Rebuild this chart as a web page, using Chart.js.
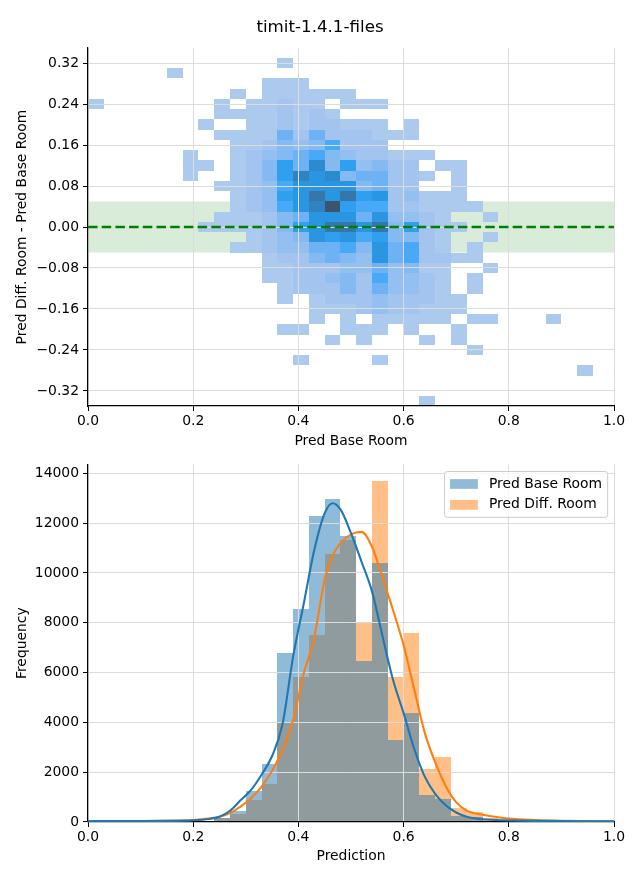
<!DOCTYPE html>
<html><head><meta charset="utf-8">
<script src="https://cdn.jsdelivr.net/npm/chart.js@4/dist/chart.umd.min.js"></script>
<style>
html,body{margin:0;padding:0;background:#fff;}
#wrap{position:relative;width:640px;height:880px;overflow:hidden;}
#c1{position:absolute;left:0;top:0;}
#c2{position:absolute;left:0;top:452px;}
</style></head><body>
<div id="wrap">
<canvas id="c1" width="640" height="452"></canvas>
<canvas id="c2" width="640" height="428"></canvas>
</div>
<script>
// ---------------- data ----------------
const chartTitle = 'timit-1.4.1-files';
const seriesLabels = ['Pred Base Room', 'Pred Diff. Room'];
const seriesColors = ['#1f77b4', '#ff7f0e'];
const binWidth = 0.03;          // histogram bin width on the prediction axis
const heatRowHeight = 0.02;     // bin height on the difference axis
const heatRowCenters = [0.32,0.30,0.28,0.26,0.24,0.22,0.20,0.18,0.16,0.14,0.12,0.10,0.08,0.06,0.04,0.02,0.00,
  -0.02,-0.04,-0.06,-0.08,-0.10,-0.12,-0.14,-0.16,-0.18,-0.20,-0.22,-0.24,-0.26,-0.28,-0.30,-0.32,-0.34];
// relative counts per cell (0 = empty), columns = prediction bins of width 0.03 starting at 0
const heatCounts = [
[0,0,0,0,0,0,0,0,0,0,0,0,1,0,0,0,0,0,0,0,0,0,0,0,0,0,0,0,0,0,0,0],
[0,0,0,0,0,1,0,0,0,0,0,0,0,0,0,0,0,0,0,0,0,0,0,0,0,0,0,0,0,0,0,0],
[0,0,0,0,0,0,0,0,0,0,0,1,1,1,0,0,0,0,0,0,0,0,0,0,0,0,0,0,0,0,0,0],
[0,0,0,0,0,0,0,0,0,1,0,1,1,1,1,1,1,0,0,0,0,0,0,0,0,0,0,0,0,0,0,0],
[1,0,0,0,0,0,0,0,1,0,1,1,5,1,1,0,1,1,1,0,0,0,0,0,0,0,0,0,0,0,0,0],
[0,0,0,0,0,0,0,0,1,1,1,1,5,1,5,1,0,0,0,0,0,0,0,0,0,0,0,0,0,0,0,0],
[0,0,0,0,0,0,0,1,0,0,1,1,5,1,5,5,1,1,1,0,1,0,0,0,0,0,0,0,0,0,0,0],
[0,0,0,0,0,0,0,0,1,1,1,1,22,5,22,5,5,5,1,1,1,0,0,0,0,0,0,0,0,0,0,0],
[0,0,0,0,0,0,0,0,0,1,1,5,15,10,15,30,5,5,5,0,0,0,0,0,0,0,0,0,0,0,0,0],
[0,0,0,0,0,0,1,0,0,1,5,10,15,22,30,15,10,5,5,1,1,1,0,0,0,0,0,0,0,0,0,0],
[0,0,0,0,0,0,1,1,0,1,5,15,38,22,55,15,38,10,15,5,5,0,1,1,0,0,0,0,0,0,0,0],
[0,0,0,0,0,0,1,0,0,1,5,15,38,62,46,55,15,22,22,5,5,1,0,1,0,0,0,0,0,0,0,0],
[0,0,0,0,0,0,0,0,1,1,5,10,30,46,46,46,46,15,22,5,5,0,0,1,0,0,0,0,0,0,0,0],
[0,0,0,0,0,0,0,0,0,1,5,10,38,46,72,46,72,38,46,5,10,1,1,1,0,0,0,0,0,0,0,0],
[0,0,0,0,0,0,0,0,0,1,5,10,30,46,62,100,38,30,30,5,5,1,1,1,1,0,0,0,0,0,0,0],
[0,0,0,0,0,0,0,0,1,1,1,5,15,22,46,46,46,22,46,10,10,5,1,0,0,1,0,0,0,0,0,0],
[0,0,0,0,0,0,0,1,1,1,1,5,15,38,46,72,72,46,72,15,38,5,1,1,0,0,0,0,0,0,0,0],
[0,0,0,0,0,0,0,0,0,0,1,5,10,15,46,38,46,30,38,15,15,5,1,0,0,1,0,0,0,0,0,0],
[0,0,0,0,0,0,0,0,0,1,1,5,10,10,22,22,30,15,46,22,30,5,1,0,1,0,0,0,0,0,0,0],
[0,0,0,0,0,0,0,0,0,0,0,1,5,5,15,22,15,10,46,22,30,5,5,1,1,0,0,0,0,0,0,0],
[0,0,0,0,0,0,0,0,0,0,0,1,1,5,5,5,10,10,22,10,15,1,1,0,0,1,0,0,0,0,0,0],
[0,0,0,0,0,0,0,0,0,0,0,1,1,5,5,10,15,5,30,10,10,5,1,0,1,0,0,0,0,0,0,0],
[0,0,0,0,0,0,0,0,0,0,0,0,1,5,5,5,15,5,22,10,10,5,1,0,1,0,0,0,0,0,0,0],
[0,0,0,0,0,0,0,0,0,0,0,0,1,0,1,5,5,5,10,5,5,5,1,1,0,0,0,0,0,0,0,0],
[0,0,0,0,0,0,0,0,0,0,0,0,0,0,1,1,1,5,10,5,5,1,1,1,0,0,0,0,0,0,0,0],
[0,0,0,0,0,0,0,0,0,0,0,0,0,0,1,0,1,0,1,1,1,1,1,0,1,1,0,0,0,1,0,0],
[0,0,0,0,0,0,0,0,0,0,0,0,1,1,0,0,1,1,1,0,1,0,0,1,0,0,0,0,0,0,0,0],
[0,0,0,0,0,0,0,0,0,0,0,0,0,0,0,1,0,1,0,0,0,1,0,1,0,0,0,0,0,0,0,0],
[0,0,0,0,0,0,0,0,0,0,0,0,0,0,0,0,0,0,0,0,0,0,0,0,1,0,0,0,0,0,0,0],
[0,0,0,0,0,0,0,0,0,0,0,0,0,1,0,0,0,0,1,0,0,0,0,0,0,0,0,0,0,0,0,0],
[0,0,0,0,0,0,0,0,0,0,0,0,0,0,0,0,0,0,0,0,0,0,0,0,0,0,0,0,0,0,0,1],
[0,0,0,0,0,0,0,0,0,0,0,0,0,0,0,0,0,0,0,0,0,0,0,0,0,0,0,0,0,0,0,0],
[0,0,0,0,0,0,0,0,0,0,0,0,0,0,0,0,0,0,0,0,0,0,0,0,0,0,0,0,0,0,0,0],
[0,0,0,0,0,0,0,0,0,0,0,0,0,0,0,0,0,0,0,0,0,1,0,0,0,0,0,0,0,0,0,0]
];
const bandLimits = [-0.05, 0.05];
const topXTicks = [0, 0.2, 0.4, 0.6, 0.8, 1.0];
const topYTicks = [-0.32, -0.24, -0.16, -0.08, 0, 0.08, 0.16, 0.24, 0.32];
const topYRange = [-0.3493, 0.3493];

// histogram counts per 0.03 bin (bin i covers [0.03*i, 0.03*(i+1)))
const histBaseRoom = [5,5,5,8,10,15,25,50,170,430,1250,2320,6800,8540,12270,12950,11500,6450,10390,3310,4380,1080,920,250,200,60,40,25,15,10,6,5,3];
const histDiffRoom = [3,3,4,6,8,12,20,40,150,340,880,1530,4010,5830,7500,10750,11310,7980,13680,5830,7580,2130,2600,570,400,150,80,50,30,20,12,8,5];
// KDE curves (scaled to counts)
const kdeX = [0,0.05,0.10,0.15,0.20,0.23,0.25,0.27,0.29,0.31,0.33,0.35,0.37,0.39,0.41,0.43,0.45,0.465,0.48,0.50,0.52,0.54,0.56,0.58,0.60,0.62,0.64,0.66,0.68,0.70,0.72,0.75,0.80,0.85,0.90,0.95,1.00];
const kdeBaseRoom = [35,35,40,50,70,120,210,450,870,1290,1900,2650,3950,6650,8750,10900,12400,12800,12550,11600,10450,9250,7450,5700,4370,2950,1830,1130,670,380,210,110,65,45,35,30,25];
const kdeDiffRoom = [25,28,35,50,80,140,210,360,620,950,1420,2060,2900,4100,5960,7400,9750,10700,11200,11550,11650,11050,9800,8500,7100,5350,3600,2400,1450,800,455,290,140,80,50,35,27];
const bottomXTicks = [0, 0.2, 0.4, 0.6, 0.8, 1.0];
const bottomYTicks = [0, 2000, 4000, 6000, 8000, 10000, 12000, 14000];
const bottomYMax = 14361;

// ---------------- colormap (seaborn light->dark ramp from a seed colour, HUSL) ----------------
const HM = [[3.2406,-1.5372,-0.4986],[-0.9689,1.8758,0.0415],[0.0557,-0.2040,1.0570]];
const HM_INV = [[0.4124,0.3576,0.1805],[0.2126,0.7152,0.0722],[0.0193,0.1192,0.9505]];
const REF_U = 0.19784, REF_V = 0.46834, LAB_E = 0.008856, LAB_K = 903.3;
function maxChroma(L, H) {
  const hr = H * Math.PI / 180, sinH = Math.sin(hr), cosH = Math.cos(hr);
  const sub1 = Math.pow(L + 16, 3) / 1560896;
  const sub2 = sub1 > LAB_E ? sub1 : L / LAB_K;
  let res = Infinity;
  for (const [m1, m2, m3] of HM) {
    const top = (0.99915*m1 + 1.05122*m2 + 1.14460*m3) * sub2;
    const rb = 0.86330*m3 - 0.17266*m2;
    const lb = 0.12949*m3 - 0.38848*m1;
    const bottom = (rb*sinH + lb*cosH) * sub2;
    for (const t of [0, 1]) {
      const C = L * (top - 1.05122*t) / (bottom + 0.17266*sinH*t);
      if (C > 0 && C < res) res = C;
    }
  }
  return res;
}
const toLinear = c => c > 0.04045 ? Math.pow((c + 0.055) / 1.055, 2.4) : c / 12.92;
const fromLinear = c => c <= 0.0031308 ? 12.92 * c : 1.055 * Math.pow(c, 1 / 2.4) - 0.055;
function rgbToHusl(r, g, b) {
  const rl = [toLinear(r), toLinear(g), toLinear(b)];
  const [X, Y, Z] = HM_INV.map(row => row[0]*rl[0] + row[1]*rl[1] + row[2]*rl[2]);
  const den = X + 15*Y + 3*Z;
  const vu = 4*X/den, vv = 9*Y/den;
  const fy = Y > LAB_E ? Math.cbrt(Y) : 7.787*Y + 16/116;
  const L = 116*fy - 16;
  const U = 13*L*(vu - REF_U), V = 13*L*(vv - REF_V);
  const C = Math.hypot(U, V);
  let H = Math.atan2(V, U) * 180 / Math.PI; if (H < 0) H += 360;
  return [H, C / maxChroma(L, H) * 100, L];
}
function huslToRgb(H, S, L) {
  const C = maxChroma(L, H) / 100 * S;
  const hr = H * Math.PI / 180;
  const U = Math.cos(hr) * C, V = Math.sin(hr) * C;
  const fi = (L + 16) / 116;
  const Y = Math.pow(fi, 3) > LAB_E ? Math.pow(fi, 3) : (116*fi - 16) / LAB_K;
  const vu = U / (13*L) + REF_U, vv = V / (13*L) + REF_V;
  const X = -(9*Y*vu) / ((vu - 4)*vv - vu*vv);
  const Z = (9*Y - 15*vv*Y - vv*X) / (3*vv);
  return HM.map(row => Math.min(1, Math.max(0, fromLinear(row[0]*X + row[1]*Y + row[2]*Z))));
}
function buildCmap(hex) {
  const r = parseInt(hex.slice(1,3),16)/255, g = parseInt(hex.slice(3,5),16)/255, b = parseInt(hex.slice(5,7),16)/255;
  const [h, s] = rgbToHusl(r, g, b);
  const n = 256, m = Math.floor(1.15 * 256);
  const cols = [];
  for (let k = 0; k < n; k++) {
    const xx = -1 + 2*k/(m - 1);
    const c = huslToRgb(h, s*Math.cos(xx), 35 + 45*k/(n - 1));
    cols.push('rgb(' + c.map(v => Math.round(v*255)).join(',') + ')');
  }
  return cols.reverse();
}
const cmap = buildCmap(seriesColors[0]);
let vmin = Infinity, vmax = -Infinity;
heatCounts.forEach(r => r.forEach(v => { if (v > 0) { vmin = Math.min(vmin, v); vmax = Math.max(vmax, v); } }));
const cellColor = v => cmap[Math.min(255, Math.max(0, Math.floor((v - vmin) / (vmax - vmin) * 256)))];

// ---------------- shared helpers ----------------
const FONT = 'DejaVu Sans';
Chart.defaults.font.family = FONT;
Chart.defaults.color = '#000';
const TICK_FS = 13.9;
const GRID = '#dcdcdc';
const fmtMinus = s => s.replace('-', '\u2212');

// draw datasets marked `late` after the grid (like matplotlib lines above grid)
const lateLines = {
  id: 'lateLines',
  beforeDatasetDraw(chart, args) {
    if (chart.data.datasets[args.index].late && !chart.$lateNow) return false;
  },
  afterDraw(chart) {
    const ctx = chart.ctx, a = chart.chartArea;
    chart.$lateNow = true;
    const metas = chart.getSortedVisibleDatasetMetas().filter(m => chart.data.datasets[m.index].late);
    for (let i = metas.length - 1; i >= 0; i--) {
      ctx.save();
      ctx.beginPath(); ctx.rect(a.left, a.top, a.right - a.left, a.bottom - a.top); ctx.clip();
      metas[i].controller.draw();
      ctx.restore();
    }
    chart.$lateNow = false;
  }
};
// snap bar edges to whole pixels (as matplotlib does) so adjacent bins do not show seams
const snapBars = {
  id: 'snapBars',
  afterDatasetsUpdate(chart) {
    chart.getSortedVisibleDatasetMetas().forEach(meta => {
      if (meta.type !== 'bar') return;
      meta.data.forEach(el => {
        const l = Math.round(el.x - el.width / 2), r = Math.round(el.x + el.width / 2);
        el.x = (l + r) / 2; el.width = r - l;
        el.y = Math.round(el.y); el.base = Math.round(el.base);
      });
    });
  }
};

function xAxis(ticks, title, height, titlePad) {
  return {
    type: 'linear', min: 0, max: 1, offset: false,
    afterBuildTicks: ax => { ax.ticks = ticks.map(v => ({ value: v })); },
    afterFit: ax => { ax.height = height; },
    ticks: { autoSkip: false, maxRotation: 0, minRotation: 0, padding: 2, font: { size: TICK_FS }, color: '#000',
             callback: v => v.toFixed(1) },
    grid: { offset: false, color: GRID, lineWidth: 1, z: 1, tickLength: 5, tickColor: '#000', tickWidth: 1 },
    border: { display: true, color: '#000', width: 1.2, z: 2 },
    title: { display: true, text: title, font: { size: TICK_FS }, color: '#000', padding: { top: 0, bottom: titlePad } }
  };
}
function yAxis(ticks, min, max, title, fmt) {
  return {
    type: 'linear', min, max,
    afterBuildTicks: ax => { ax.ticks = ticks.map(v => ({ value: v })); },
    afterFit: ax => { ax.width = 88; },
    ticks: { autoSkip: false, padding: 4, font: { size: TICK_FS }, color: '#000', callback: fmt },
    grid: { color: GRID, lineWidth: 1, z: 1, tickLength: 5, tickColor: '#000', tickWidth: 1 },
    border: { display: true, color: '#000', width: 1.2, z: 2 },
    title: { display: true, text: title, font: { size: TICK_FS }, color: '#000', padding: { top: 13.7, bottom: 0 } }
  };
}
// empty right-hand margin box (keeps the figure title centred on the whole figure)
const rightMargin = {
  type: 'linear', position: 'right', display: true,
  afterFit: ax => { ax.width = 26; },
  ticks: { display: false }, grid: { display: false, drawTicks: false }, border: { display: false }
};

// ---------------- top chart: 2D histogram ----------------
const cells = [];
heatRowCenters.forEach((yc, r) => {
  heatCounts[r].forEach((v, i) => {
    if (v > 0) cells.push({ x: (i + 0.5) * binWidth, y: [yc - heatRowHeight / 2, yc + heatRowHeight / 2], v });
  });
});

new Chart(document.getElementById('c1'), {
  type: 'bar',
  data: {
    datasets: [
      { type: 'line', label: 'band', data: [{ x: 0, y: bandLimits[1] }, { x: 1, y: bandLimits[1] }],
        borderWidth: 0, borderColor: 'rgba(0,0,0,0)', pointRadius: 0,
        fill: { value: bandLimits[0] }, backgroundColor: 'rgba(0,128,0,0.15)', order: 3 },
      { type: 'bar', label: 'cells', data: cells, order: 2,
        backgroundColor: ctx => ctx.raw ? cellColor(ctx.raw.v) : 'rgba(0,0,0,0)',
        borderWidth: 0, inflateAmount: 0, barPercentage: 1, categoryPercentage: 1, grouped: false },
      { type: 'line', label: 'zero', late: true, data: [{ x: 0, y: 0 }, { x: 1, y: 0 }],
        borderColor: '#008000', borderWidth: 2.4, borderDash: [9.5, 4.2], pointRadius: 0, fill: false, order: 1 }
    ]
  },
  options: {
    responsive: false, animation: false, events: [],
    layout: { padding: 0 },
    plugins: {
      legend: { display: false }, tooltip: { enabled: false },
      title: { display: true, text: chartTitle, color: '#000', font: { size: 16.7, weight: 'normal' },
               padding: { top: 18, bottom: 9.96 } }
    },
    scales: {
      x: xAxis(topXTicks, 'Pred Base Room', 46, 2.7),
      y: yAxis(topYTicks, topYRange[0], topYRange[1], 'Pred Diff. Room - Pred Base Room', v => fmtMinus(v.toFixed(2))),
      rm: rightMargin
    }
  },
  plugins: [snapBars, lateLines]
});

// ---------------- bottom chart: histograms + KDE ----------------
const mplLegend = {
  id: 'mplLegend',
  afterDraw(chart) {
    const ctx = chart.ctx, a = chart.chartArea, fs = TICK_FS;
    const items = chart.data.datasets.filter(d => d.type === 'bar')
      .map(d => ({ label: d.label, color: d.backgroundColor }));
    ctx.save();
    ctx.font = fs + 'px "' + FONT + '"';
    const tw = Math.max(...items.map(it => ctx.measureText(it.label).width));
    const pad = 0.4 * fs, hl = 2 * fs, htp = 0.8 * fs, ls = 0.5 * fs, rowH = fs;
    const w = pad + hl + htp + tw + pad;
    const h = 2 * pad + items.length * rowH + (items.length - 1) * ls;
    const x0 = Math.round(a.right - 0.5 * fs - w) + 0.5, y0 = Math.round(a.top + 0.5 * fs) + 0.5;
    const rr = 0.2 * fs;
    ctx.beginPath();
    ctx.moveTo(x0 + rr, y0); ctx.lineTo(x0 + w - rr, y0); ctx.arcTo(x0 + w, y0, x0 + w, y0 + rr, rr);
    ctx.lineTo(x0 + w, y0 + h - rr); ctx.arcTo(x0 + w, y0 + h, x0 + w - rr, y0 + h, rr);
    ctx.lineTo(x0 + rr, y0 + h); ctx.arcTo(x0, y0 + h, x0, y0 + h - rr, rr);
    ctx.lineTo(x0, y0 + rr); ctx.arcTo(x0, y0, x0 + rr, y0, rr); ctx.closePath();
    ctx.fillStyle = 'rgba(255,255,255,0.8)'; ctx.fill();
    ctx.strokeStyle = '#cccccc'; ctx.lineWidth = 1; ctx.stroke();
    items.forEach((it, i) => {
      const cy = y0 + pad + rowH / 2 + i * (rowH + ls);
      ctx.fillStyle = 'rgba(255,255,255,1)';
      ctx.fillRect(x0 + pad, cy - 0.35 * fs, hl, 0.7 * fs);
      ctx.fillStyle = it.color;
      ctx.fillRect(x0 + pad, cy - 0.35 * fs, hl, 0.7 * fs);
      ctx.fillStyle = '#000'; ctx.textBaseline = 'middle'; ctx.textAlign = 'left';
      ctx.fillText(it.label, x0 + pad + hl + htp, cy);
    });
    ctx.restore();
  }
};

const toBars = arr => arr.map((v, i) => ({ x: (i + 0.5) * binWidth, y: v }));
const toLine = arr => arr.map((v, i) => ({ x: kdeX[i], y: v }));

new Chart(document.getElementById('c2'), {
  type: 'bar',
  data: {
    datasets: [
      { type: 'bar', label: seriesLabels[0], data: toBars(histBaseRoom), backgroundColor: 'rgba(31,119,180,0.5)',
        borderWidth: 0, inflateAmount: 0, barPercentage: 1, categoryPercentage: 1, grouped: false, order: 2 },
      { type: 'bar', label: seriesLabels[1], data: toBars(histDiffRoom), backgroundColor: 'rgba(255,127,14,0.5)',
        borderWidth: 0, inflateAmount: 0, barPercentage: 1, categoryPercentage: 1, grouped: false, order: 3 },
      { type: 'line', label: seriesLabels[0] + ' KDE', late: true, data: toLine(kdeBaseRoom), borderColor: seriesColors[0],
        borderWidth: 2.1, pointRadius: 0, fill: false, cubicInterpolationMode: 'monotone', order: 0 },
      { type: 'line', label: seriesLabels[1] + ' KDE', late: true, data: toLine(kdeDiffRoom), borderColor: seriesColors[1],
        borderWidth: 2.1, pointRadius: 0, fill: false, cubicInterpolationMode: 'monotone', order: 1 }
    ]
  },
  options: {
    responsive: false, animation: false, events: [],
    layout: { padding: { left: 0, right: 0, top: 12, bottom: 0 } },
    plugins: { legend: { display: false }, tooltip: { enabled: false }, title: { display: false } },
    scales: {
      x: xAxis(bottomXTicks, 'Prediction', 58, 15),
      y: yAxis(bottomYTicks, 0, bottomYMax, 'Frequency', v => String(v)),
      rm: rightMargin
    }
  },
  plugins: [snapBars, lateLines, mplLegend]
});
</script>
</body></html>
